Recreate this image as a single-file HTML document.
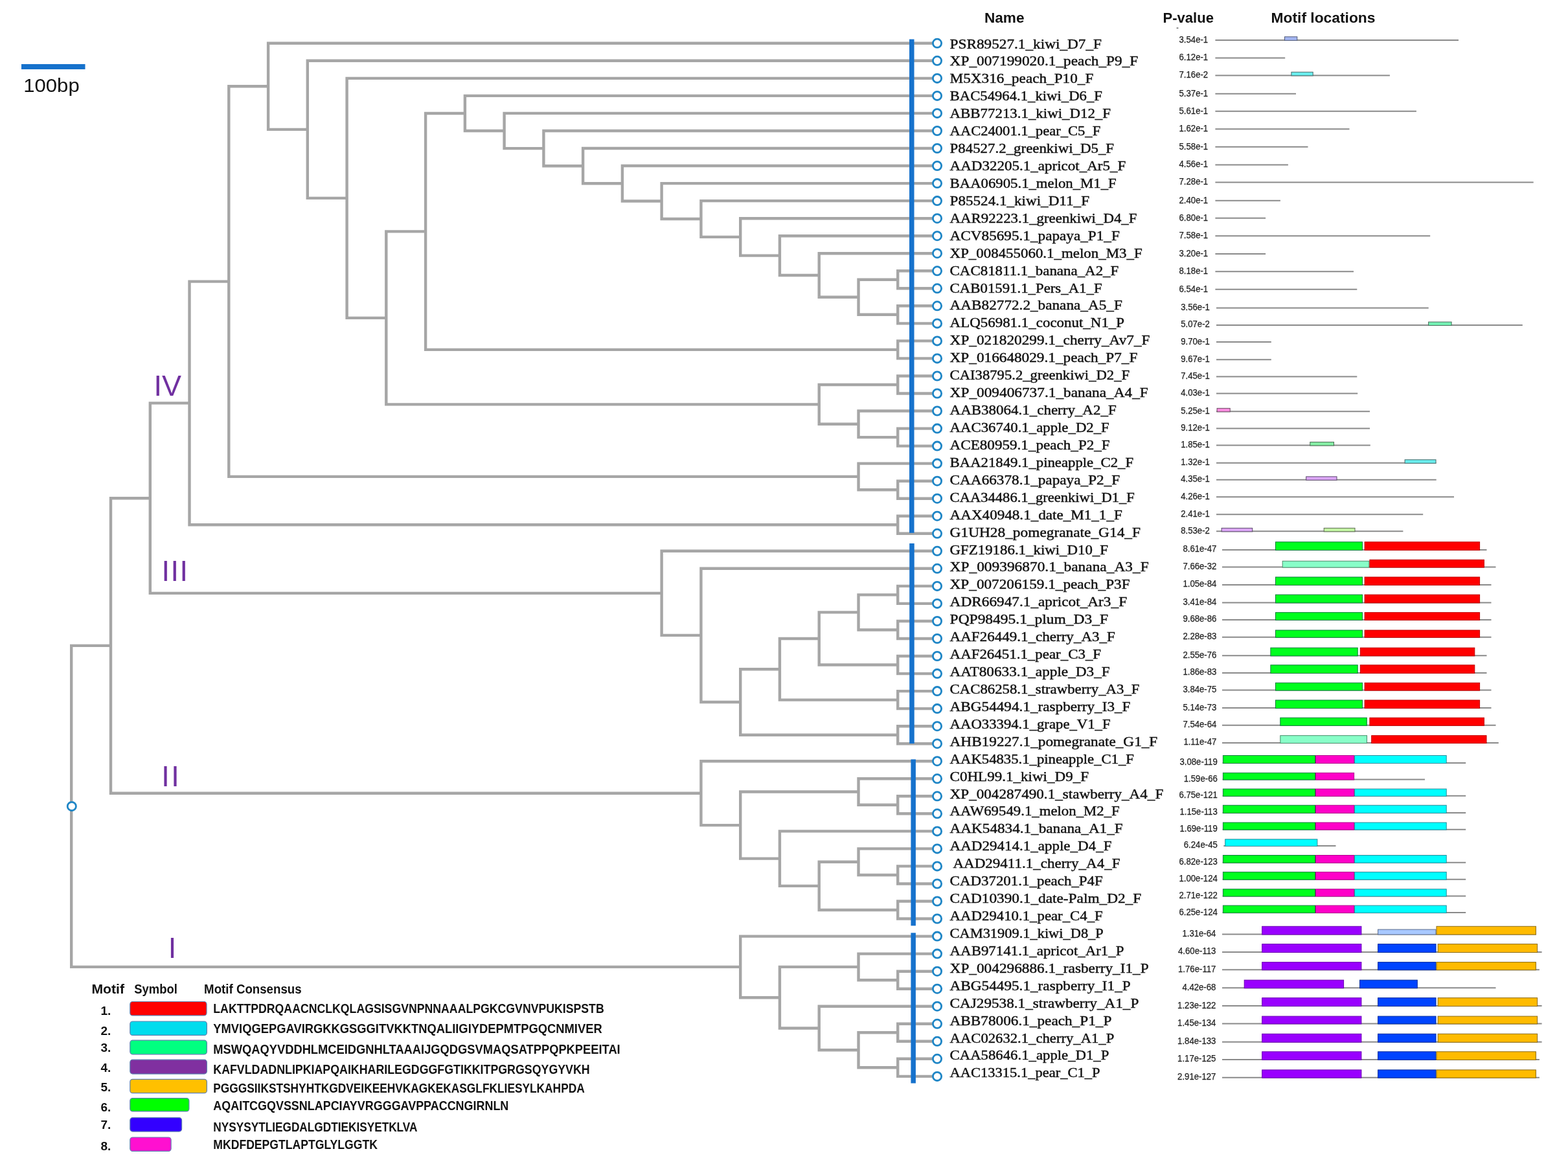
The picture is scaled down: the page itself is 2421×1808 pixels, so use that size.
<!DOCTYPE html>
<html><head><meta charset="utf-8"><title>Motif tree</title>
<style>html,body{margin:0;padding:0;background:#fff;}svg{display:block;}.nm{font-family:"Liberation Serif",serif;font-size:21.5px;fill:#111;stroke:#111;stroke-width:0.45px;}.pv{font-family:"Liberation Sans",sans-serif;font-size:14.4px;fill:#222;stroke:#222;stroke-width:0.25px;}.hd{font-family:"Liberation Sans",sans-serif;font-weight:bold;fill:#111;}.rn{font-family:"Liberation Sans",sans-serif;font-size:45px;fill:#7030a0;}.lg{font-family:"Liberation Sans",sans-serif;font-weight:bold;fill:#111;}</style></head><body>
<svg width="2421" height="1808" viewBox="0 0 2421 1808">
<rect width="2421" height="1808" fill="#fff"/>
<rect x="33" y="99" width="98.5" height="8" fill="#1672cc"/>
<text x="36.2" y="141.9" font-family="Liberation Sans, sans-serif" font-size="29.8px" fill="#111" textLength="86.5" lengthAdjust="spacingAndGlyphs">100bp</text>
<path d="M171.0 996.9H110.2V1492.9H1143.2M231.8 769.2H171.0V1224.7H1082.4M292.5 622.4H231.8V915.9H1021.6M353.3 434.6H292.5V810.3H1386.2M414.1 133.3H353.3V735.9H1325.5M1441.0 66.8H414.1V199.9H474.8M1441.0 93.8H474.8V305.9H535.6M1441.0 120.9H535.6V490.9H596.3M657.1 357.4H596.3V624.4H1264.7M717.9 175.0H657.1V539.9H1386.2M1441.0 147.9H717.9V202.0H778.6M1441.0 174.9H778.6V229.1H839.4M1441.0 202.0H839.4V256.2H900.1M1441.0 229.0H900.1V283.3H960.9M1441.0 256.0H960.9V310.5H1021.6M1441.0 283.1H1021.6V338.0H1082.4M1441.0 310.1H1082.4V365.9H1143.2M1441.0 337.2H1143.2V394.6H1203.9M1441.0 364.2H1203.9V425.0H1264.7M1441.0 391.2H1264.7V458.8H1325.5M1386.2 431.8H1325.5V485.8H1386.2M1441.0 418.3H1386.2V445.3H1441.0M1441.0 472.3H1386.2V499.4H1441.0M1441.0 526.4H1386.2V553.4H1441.0M1386.2 594.0H1264.7V654.8H1325.5M1441.0 580.5H1386.2V607.5H1441.0M1441.0 634.5H1325.5V675.1H1386.2M1441.0 661.6H1386.2V688.6H1441.0M1441.0 715.6H1325.5V756.2H1386.2M1441.0 742.7H1386.2V769.7H1441.0M1441.0 796.7H1386.2V823.8H1441.0M1441.0 850.8H1021.6V980.9H1082.4M1441.0 877.8H1082.4V1084.0H1143.2M1203.9 1033.3H1143.2V1134.7H1386.2M1264.7 986.0H1203.9V1080.6H1386.2M1325.5 945.4H1264.7V1026.5H1386.2M1386.2 918.4H1325.5V972.5H1386.2M1441.0 904.9H1386.2V931.9H1441.0M1441.0 959.0H1386.2V986.0H1441.0M1441.0 1013.0H1386.2V1040.1H1441.0M1441.0 1067.1H1386.2V1094.1H1441.0M1441.0 1121.2H1386.2V1148.2H1441.0M1441.0 1175.2H1082.4V1274.1H1143.2M1325.5 1222.5H1143.2V1325.6H1203.9M1441.0 1202.3H1325.5V1242.8H1386.2M1441.0 1229.3H1386.2V1256.3H1441.0M1441.0 1283.4H1203.9V1367.9H1264.7M1325.5 1330.7H1264.7V1405.0H1386.2M1441.0 1310.4H1325.5V1351.0H1386.2M1441.0 1337.4H1386.2V1364.5H1441.0M1441.0 1391.5H1386.2V1418.5H1441.0M1441.0 1445.6H1143.2V1540.2H1203.9M1325.5 1492.9H1203.9V1587.5H1264.7M1441.0 1472.6H1325.5V1513.2H1386.2M1441.0 1499.7H1386.2V1526.7H1441.0M1441.0 1553.7H1264.7V1621.3H1325.5M1386.2 1594.3H1325.5V1648.3H1386.2M1441.0 1580.8H1386.2V1607.8H1441.0M1441.0 1634.8H1386.2V1661.9H1441.0" fill="none" stroke="#a6a6a6" stroke-width="4.4" stroke-linejoin="miter" stroke-linecap="butt"/>
<rect x="1404.0" y="60.6" width="7.5" height="762.2" fill="#1672cc"/>
<rect x="1404.2" y="839.0" width="7.5" height="309.0" fill="#1672cc"/>
<rect x="1406.4" y="1172.4" width="7.5" height="256.9" fill="#1672cc"/>
<rect x="1406.4" y="1440.3" width="7.5" height="232.2" fill="#1672cc"/>
<circle cx="1447.0" cy="66.8" r="6.6" fill="#fff" stroke="#1f86c6" stroke-width="2.8"/>
<circle cx="1447.0" cy="93.8" r="6.6" fill="#fff" stroke="#1f86c6" stroke-width="2.8"/>
<circle cx="1447.0" cy="120.9" r="6.6" fill="#fff" stroke="#1f86c6" stroke-width="2.8"/>
<circle cx="1447.0" cy="147.9" r="6.6" fill="#fff" stroke="#1f86c6" stroke-width="2.8"/>
<circle cx="1447.0" cy="174.9" r="6.6" fill="#fff" stroke="#1f86c6" stroke-width="2.8"/>
<circle cx="1447.0" cy="202.0" r="6.6" fill="#fff" stroke="#1f86c6" stroke-width="2.8"/>
<circle cx="1447.0" cy="229.0" r="6.6" fill="#fff" stroke="#1f86c6" stroke-width="2.8"/>
<circle cx="1447.0" cy="256.0" r="6.6" fill="#fff" stroke="#1f86c6" stroke-width="2.8"/>
<circle cx="1447.0" cy="283.1" r="6.6" fill="#fff" stroke="#1f86c6" stroke-width="2.8"/>
<circle cx="1447.0" cy="310.1" r="6.6" fill="#fff" stroke="#1f86c6" stroke-width="2.8"/>
<circle cx="1447.0" cy="337.2" r="6.6" fill="#fff" stroke="#1f86c6" stroke-width="2.8"/>
<circle cx="1447.0" cy="364.2" r="6.6" fill="#fff" stroke="#1f86c6" stroke-width="2.8"/>
<circle cx="1447.0" cy="391.2" r="6.6" fill="#fff" stroke="#1f86c6" stroke-width="2.8"/>
<circle cx="1447.0" cy="418.3" r="6.6" fill="#fff" stroke="#1f86c6" stroke-width="2.8"/>
<circle cx="1447.0" cy="445.3" r="6.6" fill="#fff" stroke="#1f86c6" stroke-width="2.8"/>
<circle cx="1447.0" cy="472.3" r="6.6" fill="#fff" stroke="#1f86c6" stroke-width="2.8"/>
<circle cx="1447.0" cy="499.4" r="6.6" fill="#fff" stroke="#1f86c6" stroke-width="2.8"/>
<circle cx="1447.0" cy="526.4" r="6.6" fill="#fff" stroke="#1f86c6" stroke-width="2.8"/>
<circle cx="1447.0" cy="553.4" r="6.6" fill="#fff" stroke="#1f86c6" stroke-width="2.8"/>
<circle cx="1447.0" cy="580.5" r="6.6" fill="#fff" stroke="#1f86c6" stroke-width="2.8"/>
<circle cx="1447.0" cy="607.5" r="6.6" fill="#fff" stroke="#1f86c6" stroke-width="2.8"/>
<circle cx="1447.0" cy="634.5" r="6.6" fill="#fff" stroke="#1f86c6" stroke-width="2.8"/>
<circle cx="1447.0" cy="661.6" r="6.6" fill="#fff" stroke="#1f86c6" stroke-width="2.8"/>
<circle cx="1447.0" cy="688.6" r="6.6" fill="#fff" stroke="#1f86c6" stroke-width="2.8"/>
<circle cx="1447.0" cy="715.6" r="6.6" fill="#fff" stroke="#1f86c6" stroke-width="2.8"/>
<circle cx="1447.0" cy="742.7" r="6.6" fill="#fff" stroke="#1f86c6" stroke-width="2.8"/>
<circle cx="1447.0" cy="769.7" r="6.6" fill="#fff" stroke="#1f86c6" stroke-width="2.8"/>
<circle cx="1447.0" cy="796.7" r="6.6" fill="#fff" stroke="#1f86c6" stroke-width="2.8"/>
<circle cx="1447.0" cy="823.8" r="6.6" fill="#fff" stroke="#1f86c6" stroke-width="2.8"/>
<circle cx="1447.0" cy="850.8" r="6.6" fill="#fff" stroke="#1f86c6" stroke-width="2.8"/>
<circle cx="1447.0" cy="877.8" r="6.6" fill="#fff" stroke="#1f86c6" stroke-width="2.8"/>
<circle cx="1447.0" cy="904.9" r="6.6" fill="#fff" stroke="#1f86c6" stroke-width="2.8"/>
<circle cx="1447.0" cy="931.9" r="6.6" fill="#fff" stroke="#1f86c6" stroke-width="2.8"/>
<circle cx="1447.0" cy="959.0" r="6.6" fill="#fff" stroke="#1f86c6" stroke-width="2.8"/>
<circle cx="1447.0" cy="986.0" r="6.6" fill="#fff" stroke="#1f86c6" stroke-width="2.8"/>
<circle cx="1447.0" cy="1013.0" r="6.6" fill="#fff" stroke="#1f86c6" stroke-width="2.8"/>
<circle cx="1447.0" cy="1040.1" r="6.6" fill="#fff" stroke="#1f86c6" stroke-width="2.8"/>
<circle cx="1447.0" cy="1067.1" r="6.6" fill="#fff" stroke="#1f86c6" stroke-width="2.8"/>
<circle cx="1447.0" cy="1094.1" r="6.6" fill="#fff" stroke="#1f86c6" stroke-width="2.8"/>
<circle cx="1447.0" cy="1121.2" r="6.6" fill="#fff" stroke="#1f86c6" stroke-width="2.8"/>
<circle cx="1447.0" cy="1148.2" r="6.6" fill="#fff" stroke="#1f86c6" stroke-width="2.8"/>
<circle cx="1447.0" cy="1175.2" r="6.6" fill="#fff" stroke="#1f86c6" stroke-width="2.8"/>
<circle cx="1447.0" cy="1202.3" r="6.6" fill="#fff" stroke="#1f86c6" stroke-width="2.8"/>
<circle cx="1447.0" cy="1229.3" r="6.6" fill="#fff" stroke="#1f86c6" stroke-width="2.8"/>
<circle cx="1447.0" cy="1256.3" r="6.6" fill="#fff" stroke="#1f86c6" stroke-width="2.8"/>
<circle cx="1447.0" cy="1283.4" r="6.6" fill="#fff" stroke="#1f86c6" stroke-width="2.8"/>
<circle cx="1447.0" cy="1310.4" r="6.6" fill="#fff" stroke="#1f86c6" stroke-width="2.8"/>
<circle cx="1447.0" cy="1337.4" r="6.6" fill="#fff" stroke="#1f86c6" stroke-width="2.8"/>
<circle cx="1447.0" cy="1364.5" r="6.6" fill="#fff" stroke="#1f86c6" stroke-width="2.8"/>
<circle cx="1447.0" cy="1391.5" r="6.6" fill="#fff" stroke="#1f86c6" stroke-width="2.8"/>
<circle cx="1447.0" cy="1418.5" r="6.6" fill="#fff" stroke="#1f86c6" stroke-width="2.8"/>
<circle cx="1447.0" cy="1445.6" r="6.6" fill="#fff" stroke="#1f86c6" stroke-width="2.8"/>
<circle cx="1447.0" cy="1472.6" r="6.6" fill="#fff" stroke="#1f86c6" stroke-width="2.8"/>
<circle cx="1447.0" cy="1499.7" r="6.6" fill="#fff" stroke="#1f86c6" stroke-width="2.8"/>
<circle cx="1447.0" cy="1526.7" r="6.6" fill="#fff" stroke="#1f86c6" stroke-width="2.8"/>
<circle cx="1447.0" cy="1553.7" r="6.6" fill="#fff" stroke="#1f86c6" stroke-width="2.8"/>
<circle cx="1447.0" cy="1580.8" r="6.6" fill="#fff" stroke="#1f86c6" stroke-width="2.8"/>
<circle cx="1447.0" cy="1607.8" r="6.6" fill="#fff" stroke="#1f86c6" stroke-width="2.8"/>
<circle cx="1447.0" cy="1634.8" r="6.6" fill="#fff" stroke="#1f86c6" stroke-width="2.8"/>
<circle cx="1447.0" cy="1661.9" r="6.6" fill="#fff" stroke="#1f86c6" stroke-width="2.8"/>
<circle cx="110.8" cy="1244.9" r="6.6" fill="#fff" stroke="#1f86c6" stroke-width="2.8"/>
<text class="rn" x="237.4" y="610.8">IV</text>
<text class="rn" x="249.5" y="896.6" letter-spacing="1.5">III</text>
<text class="rn" x="249.3" y="1214.2" letter-spacing="2.5">II</text>
<text class="rn" x="259.7" y="1478.6">I</text>
<text class="nm" x="1466.6" y="74.5" textLength="234.4" lengthAdjust="spacingAndGlyphs">PSR89527.1_kiwi_D7_F</text>
<text class="nm" x="1466.6" y="101.4" textLength="290.7" lengthAdjust="spacingAndGlyphs">XP_007199020.1_peach_P9_F</text>
<text class="nm" x="1466.6" y="128.4" textLength="221.7" lengthAdjust="spacingAndGlyphs">M5X316_peach_P10_F</text>
<text class="nm" x="1466.6" y="155.3" textLength="235.3" lengthAdjust="spacingAndGlyphs">BAC54964.1_kiwi_D6_F</text>
<text class="nm" x="1466.6" y="182.2" textLength="248.4" lengthAdjust="spacingAndGlyphs">ABB77213.1_kiwi_D12_F</text>
<text class="nm" x="1466.6" y="209.2" textLength="232.6" lengthAdjust="spacingAndGlyphs">AAC24001.1_pear_C5_F</text>
<text class="nm" x="1466.6" y="236.1" textLength="253.5" lengthAdjust="spacingAndGlyphs">P84527.2_greenkiwi_D5_F</text>
<text class="nm" x="1466.6" y="263.0" textLength="271.7" lengthAdjust="spacingAndGlyphs">AAD32205.1_apricot_Ar5_F</text>
<text class="nm" x="1466.6" y="289.9" textLength="257.1" lengthAdjust="spacingAndGlyphs">BAA06905.1_melon_M1_F</text>
<text class="nm" x="1466.6" y="316.9" textLength="215.4" lengthAdjust="spacingAndGlyphs">P85524.1_kiwi_D11_F</text>
<text class="nm" x="1466.6" y="343.8" textLength="288.9" lengthAdjust="spacingAndGlyphs">AAR92223.1_greenkiwi_D4_F</text>
<text class="nm" x="1466.6" y="370.7" textLength="262.2" lengthAdjust="spacingAndGlyphs">ACV85695.1_papaya_P1_F</text>
<text class="nm" x="1466.6" y="397.7" textLength="297.1" lengthAdjust="spacingAndGlyphs">XP_008455060.1_melon_M3_F</text>
<text class="nm" x="1466.6" y="424.6" textLength="260.7" lengthAdjust="spacingAndGlyphs">CAC81811.1_banana_A2_F</text>
<text class="nm" x="1466.6" y="451.5" textLength="235.0" lengthAdjust="spacingAndGlyphs">CAB01591.1_Pers_A1_F</text>
<text class="nm" x="1466.6" y="478.4" textLength="266.2" lengthAdjust="spacingAndGlyphs">AAB82772.2_banana_A5_F</text>
<text class="nm" x="1466.6" y="505.4" textLength="269.5" lengthAdjust="spacingAndGlyphs">ALQ56981.1_coconut_N1_P</text>
<text class="nm" x="1466.6" y="532.3" textLength="308.9" lengthAdjust="spacingAndGlyphs">XP_021820299.1_cherry_Av7_F</text>
<text class="nm" x="1466.6" y="559.2" textLength="289.8" lengthAdjust="spacingAndGlyphs">XP_016648029.1_peach_P7_F</text>
<text class="nm" x="1466.6" y="586.2" textLength="277.5" lengthAdjust="spacingAndGlyphs">CAI38795.2_greenkiwi_D2_F</text>
<text class="nm" x="1466.6" y="613.1" textLength="306.2" lengthAdjust="spacingAndGlyphs">XP_009406737.1_banana_A4_F</text>
<text class="nm" x="1466.6" y="640.0" textLength="257.1" lengthAdjust="spacingAndGlyphs">AAB38064.1_cherry_A2_F</text>
<text class="nm" x="1466.6" y="667.0" textLength="246.2" lengthAdjust="spacingAndGlyphs">AAC36740.1_apple_D2_F</text>
<text class="nm" x="1466.6" y="693.9" textLength="247.1" lengthAdjust="spacingAndGlyphs">ACE80959.1_peach_P2_F</text>
<text class="nm" x="1466.6" y="720.8" textLength="283.5" lengthAdjust="spacingAndGlyphs">BAA21849.1_pineapple_C2_F</text>
<text class="nm" x="1466.6" y="747.8" textLength="262.6" lengthAdjust="spacingAndGlyphs">CAA66378.1_papaya_P2_F</text>
<text class="nm" x="1466.6" y="774.7" textLength="285.3" lengthAdjust="spacingAndGlyphs">CAA34486.1_greenkiwi_D1_F</text>
<text class="nm" x="1466.6" y="801.6" textLength="266.2" lengthAdjust="spacingAndGlyphs">AAX40948.1_date_M1_1_F</text>
<text class="nm" x="1466.6" y="828.5" textLength="294.4" lengthAdjust="spacingAndGlyphs">G1UH28_pomegranate_G14_F</text>
<text class="nm" x="1466.6" y="855.5" textLength="244.4" lengthAdjust="spacingAndGlyphs">GFZ19186.1_kiwi_D10_F</text>
<text class="nm" x="1466.6" y="882.4" textLength="307.1" lengthAdjust="spacingAndGlyphs">XP_009396870.1_banana_A3_F</text>
<text class="nm" x="1466.6" y="909.3" textLength="278.0" lengthAdjust="spacingAndGlyphs">XP_007206159.1_peach_P3F</text>
<text class="nm" x="1466.6" y="936.3" textLength="273.5" lengthAdjust="spacingAndGlyphs">ADR66947.1_apricot_Ar3_F</text>
<text class="nm" x="1466.6" y="963.2" textLength="244.4" lengthAdjust="spacingAndGlyphs">PQP98495.1_plum_D3_F</text>
<text class="nm" x="1466.6" y="990.1" textLength="255.3" lengthAdjust="spacingAndGlyphs">AAF26449.1_cherry_A3_F</text>
<text class="nm" x="1466.6" y="1017.0" textLength="233.5" lengthAdjust="spacingAndGlyphs">AAF26451.1_pear_C3_F</text>
<text class="nm" x="1466.6" y="1044.0" textLength="247.1" lengthAdjust="spacingAndGlyphs">AAT80633.1_apple_D3_F</text>
<text class="nm" x="1466.6" y="1070.9" textLength="292.9" lengthAdjust="spacingAndGlyphs">CAC86258.1_strawberry_A3_F</text>
<text class="nm" x="1466.6" y="1097.8" textLength="278.9" lengthAdjust="spacingAndGlyphs">ABG54494.1_raspberry_I3_F</text>
<text class="nm" x="1466.6" y="1124.8" textLength="248.0" lengthAdjust="spacingAndGlyphs">AAO33394.1_grape_V1_F</text>
<text class="nm" x="1466.6" y="1151.7" textLength="320.7" lengthAdjust="spacingAndGlyphs">AHB19227.1_pomegranate_G1_F</text>
<text class="nm" x="1466.6" y="1178.6" textLength="284.4" lengthAdjust="spacingAndGlyphs">AAK54835.1_pineapple_C1_F</text>
<text class="nm" x="1466.6" y="1205.6" textLength="214.4" lengthAdjust="spacingAndGlyphs">C0HL99.1_kiwi_D9_F</text>
<text class="nm" x="1466.6" y="1232.5" textLength="329.7" lengthAdjust="spacingAndGlyphs">XP_004287490.1_stawberry_A4_F</text>
<text class="nm" x="1466.6" y="1259.4" textLength="262.2" lengthAdjust="spacingAndGlyphs">AAW69549.1_melon_M2_F</text>
<text class="nm" x="1466.6" y="1286.3" textLength="267.1" lengthAdjust="spacingAndGlyphs">AAK54834.1_banana_A1_F</text>
<text class="nm" x="1466.6" y="1313.3" textLength="249.9" lengthAdjust="spacingAndGlyphs">AAD29414.1_apple_D4_F</text>
<text class="nm" x="1471.4" y="1340.2" textLength="258.1" lengthAdjust="spacingAndGlyphs">AAD29411.1_cherry_A4_F</text>
<text class="nm" x="1466.6" y="1367.1" textLength="236.2" lengthAdjust="spacingAndGlyphs">CAD37201.1_peach_P4F</text>
<text class="nm" x="1466.6" y="1394.1" textLength="295.6" lengthAdjust="spacingAndGlyphs">CAD10390.1_date-Palm_D2_F</text>
<text class="nm" x="1466.6" y="1421.0" textLength="236.2" lengthAdjust="spacingAndGlyphs">AAD29410.1_pear_C4_F</text>
<text class="nm" x="1466.6" y="1447.9" textLength="237.2" lengthAdjust="spacingAndGlyphs">CAM31909.1_kiwi_D8_P</text>
<text class="nm" x="1466.6" y="1474.9" textLength="268.9" lengthAdjust="spacingAndGlyphs">AAB97141.1_apricot_Ar1_P</text>
<text class="nm" x="1466.6" y="1501.8" textLength="307.1" lengthAdjust="spacingAndGlyphs">XP_004296886.1_rasberry_I1_P</text>
<text class="nm" x="1466.6" y="1528.7" textLength="279.1" lengthAdjust="spacingAndGlyphs">ABG54495.1_raspberry_I1_P</text>
<text class="nm" x="1466.6" y="1555.7" textLength="291.7" lengthAdjust="spacingAndGlyphs">CAJ29538.1_strawberry_A1_P</text>
<text class="nm" x="1466.6" y="1582.6" textLength="249.7" lengthAdjust="spacingAndGlyphs">ABB78006.1_peach_P1_P</text>
<text class="nm" x="1466.6" y="1609.5" textLength="253.7" lengthAdjust="spacingAndGlyphs">AAC02632.1_cherry_A1_P</text>
<text class="nm" x="1466.6" y="1636.4" textLength="245.8" lengthAdjust="spacingAndGlyphs">CAA58646.1_apple_D1_P</text>
<text class="nm" x="1466.6" y="1663.4" textLength="231.9" lengthAdjust="spacingAndGlyphs">AAC13315.1_pear_C1_P</text>
<text class="hd" x="1520" y="34.7" font-size="22px" textLength="61.5" lengthAdjust="spacingAndGlyphs">Name</text>
<text class="hd" x="1795.5" y="34.8" font-size="22px" textLength="78.5" lengthAdjust="spacingAndGlyphs">P-value</text>
<text class="hd" x="1962.5" y="34.8" font-size="22px" textLength="161" lengthAdjust="spacingAndGlyphs">Motif locations</text>
<path d="M1876.4 61.9H2252.0M1876.4 89.4H1984.2M1876.4 116.4H2145.9M1876.4 144.7H2001.0M1876.4 171.7H2186.9M1876.4 199.2H2083.5M1876.4 226.7H2019.5M1876.4 254.4H1988.9M1876.4 281.4H2367.7M1876.4 309.7H1976.9M1876.4 336.7H1954.1M1876.4 364.2H2208.2M1876.4 392.0H1954.1M1876.4 419.2H2090.0M1876.4 446.7H2095.3M1878.0 475.6H2205.7M1878.0 502.0H2350.8M1878.0 528.1H1962.8M1878.0 555.3H1962.8M1878.0 581.4H2095.3M1878.0 607.5H2096.2M1878.0 635.3H2115.0M1878.0 661.4H2115.0M1878.0 687.5H2115.8M1878.0 714.7H2217.5M1878.0 740.8H2217.7M1878.0 767.2H2245.0M1878.0 794.2H2197.2M1878.0 820.3H2166.4M1887.0 849.0H2295.5M1887.0 875.6H2309.5M1887.0 902.9H2302.5M1887.0 930.4H2302.5M1887.0 957.0H2302.5M1887.0 983.7H2302.5M1887.0 1012.3H2295.5M1887.0 1039.0H2295.5M1887.0 1065.6H2302.5M1887.0 1093.1H2302.5M1887.0 1119.8H2309.5M1887.0 1147.0H2313.8M1887.6 1178.0H2263.2M1887.6 1203.5H2200.0M1887.6 1228.8H2263.2M1887.6 1254.9H2263.2M1887.6 1280.7H2263.2M1889.3 1306.0H2062.5M1887.6 1331.8H2263.2M1887.6 1357.7H2263.2M1887.6 1383.5H2263.2M1887.6 1409.1H2263.2M1887.0 1442.5H2371.9M1887.0 1470.0H2380.6M1887.0 1497.2H2376.9M1887.0 1525.2H2309.5M1887.0 1553.1H2380.6M1887.0 1580.4H2380.6M1887.0 1608.7H2380.6M1887.0 1636.0H2376.9M1887.0 1663.7H2376.9" stroke="#8a8a8a" stroke-width="2" fill="none"/>
<rect x="1983.5" y="56.8" width="19.3" height="5.6" fill="#a4b6f2" stroke="#505a78" stroke-width="1"/>
<rect x="1993.9" y="111.3" width="33.3" height="5.6" fill="#6aeeee" stroke="#4a6a6a" stroke-width="1"/>
<rect x="2205.6" y="497.1" width="35.5" height="5.4" fill="#74f2b4" stroke="#4a6a5a" stroke-width="1"/>
<rect x="1879.1" y="630.4" width="20.1" height="5.4" fill="#ff8ce0" stroke="#6a4a62" stroke-width="1"/>
<rect x="2022.8" y="682.6" width="36.7" height="5.4" fill="#86f0a6" stroke="#4a6a52" stroke-width="1"/>
<rect x="2169.1" y="709.8" width="47.9" height="5.4" fill="#6aeeee" stroke="#4a6a6a" stroke-width="1"/>
<rect x="2016.7" y="735.9" width="47.3" height="5.4" fill="#dca6f8" stroke="#5a4a6a" stroke-width="1"/>
<rect x="1886.1" y="815.4" width="47.6" height="5.4" fill="#dca6f8" stroke="#5a4a6a" stroke-width="1"/>
<rect x="2044.2" y="815.4" width="47.8" height="5.4" fill="#c4f8a4" stroke="#5a6a4e" stroke-width="1"/>
<rect x="1969.5" y="836.8" width="134.0" height="12.7" fill="#00ff1e" stroke="#0a7a3a" stroke-width="1"/>
<rect x="2107.1" y="836.8" width="177.5" height="12.7" fill="#ff0000" stroke="#c00000" stroke-width="1"/>
<rect x="1980.2" y="866.3" width="133.7" height="9.8" fill="#88ffc8" stroke="#4a8a6a" stroke-width="1"/>
<rect x="2114.9" y="864.3" width="176.5" height="11.8" fill="#ff0000" stroke="#c00000" stroke-width="1"/>
<rect x="1969.5" y="891.0" width="134.0" height="12.4" fill="#00ff1e" stroke="#0a7a3a" stroke-width="1"/>
<rect x="2107.1" y="891.0" width="177.5" height="12.4" fill="#ff0000" stroke="#c00000" stroke-width="1"/>
<rect x="1969.5" y="918.2" width="134.0" height="12.7" fill="#00ff1e" stroke="#0a7a3a" stroke-width="1"/>
<rect x="2107.1" y="918.2" width="177.5" height="12.7" fill="#ff0000" stroke="#c00000" stroke-width="1"/>
<rect x="1969.5" y="945.7" width="134.0" height="11.8" fill="#00ff1e" stroke="#0a7a3a" stroke-width="1"/>
<rect x="2107.1" y="945.7" width="177.5" height="11.8" fill="#ff0000" stroke="#c00000" stroke-width="1"/>
<rect x="1969.5" y="973.0" width="134.0" height="11.2" fill="#00ff1e" stroke="#0a7a3a" stroke-width="1"/>
<rect x="2107.1" y="973.0" width="177.5" height="11.2" fill="#ff0000" stroke="#c00000" stroke-width="1"/>
<rect x="1961.9" y="1000.2" width="134.3" height="12.6" fill="#00ff1e" stroke="#0a7a3a" stroke-width="1"/>
<rect x="2100.3" y="1000.2" width="176.5" height="12.6" fill="#ff0000" stroke="#c00000" stroke-width="1"/>
<rect x="1961.9" y="1026.8" width="134.3" height="12.7" fill="#00ff1e" stroke="#0a7a3a" stroke-width="1"/>
<rect x="2100.3" y="1026.8" width="176.5" height="12.7" fill="#ff0000" stroke="#c00000" stroke-width="1"/>
<rect x="1969.5" y="1054.3" width="134.0" height="11.8" fill="#00ff1e" stroke="#0a7a3a" stroke-width="1"/>
<rect x="2107.1" y="1054.3" width="177.5" height="11.8" fill="#ff0000" stroke="#c00000" stroke-width="1"/>
<rect x="1969.5" y="1081.0" width="134.0" height="12.6" fill="#00ff1e" stroke="#0a7a3a" stroke-width="1"/>
<rect x="2107.1" y="1081.0" width="177.5" height="12.6" fill="#ff0000" stroke="#c00000" stroke-width="1"/>
<rect x="1976.8" y="1108.2" width="133.5" height="12.1" fill="#00ff1e" stroke="#0a7a3a" stroke-width="1"/>
<rect x="2114.9" y="1108.2" width="176.5" height="12.1" fill="#ff0000" stroke="#c00000" stroke-width="1"/>
<rect x="1976.8" y="1135.7" width="133.7" height="11.8" fill="#88ffc8" stroke="#4a8a6a" stroke-width="1"/>
<rect x="2117.7" y="1135.7" width="177.3" height="11.8" fill="#ff0000" stroke="#c00000" stroke-width="1"/>
<rect x="1888.4" y="1166.5" width="142.1" height="12.0" fill="#00ff1e" stroke="#0a7a3a" stroke-width="1"/>
<rect x="2031.5" y="1166.5" width="59.1" height="12.0" fill="#ff00c8" stroke="#b0008a" stroke-width="1"/>
<rect x="2091.6" y="1166.5" width="141.6" height="12.0" fill="#00ffff" stroke="#2a8a9a" stroke-width="1"/>
<rect x="1888.4" y="1193.3" width="142.1" height="10.7" fill="#00ff1e" stroke="#0a7a3a" stroke-width="1"/>
<rect x="2031.5" y="1193.3" width="59.1" height="10.7" fill="#ff00c8" stroke="#b0008a" stroke-width="1"/>
<rect x="1888.4" y="1218.1" width="142.1" height="11.2" fill="#00ff1e" stroke="#0a7a3a" stroke-width="1"/>
<rect x="2031.5" y="1218.1" width="59.1" height="11.2" fill="#ff00c8" stroke="#b0008a" stroke-width="1"/>
<rect x="2091.6" y="1218.1" width="141.6" height="11.2" fill="#00ffff" stroke="#2a8a9a" stroke-width="1"/>
<rect x="1888.4" y="1243.3" width="142.1" height="12.1" fill="#00ff1e" stroke="#0a7a3a" stroke-width="1"/>
<rect x="2031.5" y="1243.3" width="59.1" height="12.1" fill="#ff00c8" stroke="#b0008a" stroke-width="1"/>
<rect x="2091.6" y="1243.3" width="141.6" height="12.1" fill="#00ffff" stroke="#2a8a9a" stroke-width="1"/>
<rect x="1888.4" y="1270.0" width="142.1" height="11.2" fill="#00ff1e" stroke="#0a7a3a" stroke-width="1"/>
<rect x="2031.5" y="1270.0" width="59.1" height="11.2" fill="#ff00c8" stroke="#b0008a" stroke-width="1"/>
<rect x="2091.6" y="1270.0" width="141.6" height="11.2" fill="#00ffff" stroke="#2a8a9a" stroke-width="1"/>
<rect x="1891.7" y="1295.8" width="142.2" height="10.7" fill="#00ffff" stroke="#2a8a9a" stroke-width="1"/>
<rect x="1888.4" y="1320.5" width="142.1" height="11.8" fill="#00ff1e" stroke="#0a7a3a" stroke-width="1"/>
<rect x="2031.5" y="1320.5" width="59.1" height="11.8" fill="#ff00c8" stroke="#b0008a" stroke-width="1"/>
<rect x="2091.6" y="1320.5" width="141.6" height="11.8" fill="#00ffff" stroke="#2a8a9a" stroke-width="1"/>
<rect x="1888.4" y="1346.4" width="142.1" height="11.8" fill="#00ff1e" stroke="#0a7a3a" stroke-width="1"/>
<rect x="2031.5" y="1346.4" width="59.1" height="11.8" fill="#ff00c8" stroke="#b0008a" stroke-width="1"/>
<rect x="2091.6" y="1346.4" width="141.6" height="11.8" fill="#00ffff" stroke="#2a8a9a" stroke-width="1"/>
<rect x="1888.4" y="1372.8" width="142.1" height="11.2" fill="#00ff1e" stroke="#0a7a3a" stroke-width="1"/>
<rect x="2031.5" y="1372.8" width="59.1" height="11.2" fill="#ff00c8" stroke="#b0008a" stroke-width="1"/>
<rect x="2091.6" y="1372.8" width="141.6" height="11.2" fill="#00ffff" stroke="#2a8a9a" stroke-width="1"/>
<rect x="1888.4" y="1398.1" width="142.1" height="11.5" fill="#00ff1e" stroke="#0a7a3a" stroke-width="1"/>
<rect x="2031.5" y="1398.1" width="59.1" height="11.5" fill="#ff00c8" stroke="#b0008a" stroke-width="1"/>
<rect x="2091.6" y="1398.1" width="141.6" height="11.5" fill="#00ffff" stroke="#2a8a9a" stroke-width="1"/>
<rect x="1948.7" y="1430.3" width="153.2" height="12.7" fill="#9900ff" stroke="#6a00b0" stroke-width="1"/>
<rect x="2127.6" y="1435.1" width="89.4" height="7.9" fill="#a8c8ff" stroke="#5a6a8a" stroke-width="1"/>
<rect x="2218.0" y="1430.3" width="153.4" height="12.7" fill="#ffbb00" stroke="#8a6a10" stroke-width="1"/>
<rect x="1948.7" y="1457.6" width="153.2" height="12.9" fill="#9900ff" stroke="#6a00b0" stroke-width="1"/>
<rect x="2127.6" y="1457.6" width="89.4" height="12.9" fill="#0044ff" stroke="#002a9a" stroke-width="1"/>
<rect x="2220.2" y="1457.6" width="153.4" height="12.9" fill="#ffbb00" stroke="#8a6a10" stroke-width="1"/>
<rect x="1948.7" y="1485.6" width="153.2" height="12.1" fill="#9900ff" stroke="#6a00b0" stroke-width="1"/>
<rect x="2127.6" y="1485.6" width="89.4" height="12.1" fill="#0044ff" stroke="#002a9a" stroke-width="1"/>
<rect x="2218.0" y="1485.6" width="153.4" height="12.1" fill="#ffbb00" stroke="#8a6a10" stroke-width="1"/>
<rect x="1921.2" y="1513.2" width="153.4" height="12.5" fill="#9900ff" stroke="#6a00b0" stroke-width="1"/>
<rect x="2099.5" y="1513.2" width="88.8" height="12.5" fill="#0044ff" stroke="#002a9a" stroke-width="1"/>
<rect x="1948.7" y="1540.7" width="153.2" height="12.9" fill="#9900ff" stroke="#6a00b0" stroke-width="1"/>
<rect x="2127.6" y="1540.7" width="89.4" height="12.9" fill="#0044ff" stroke="#002a9a" stroke-width="1"/>
<rect x="2220.2" y="1540.7" width="153.4" height="12.9" fill="#ffbb00" stroke="#8a6a10" stroke-width="1"/>
<rect x="1948.7" y="1569.1" width="153.2" height="11.8" fill="#9900ff" stroke="#6a00b0" stroke-width="1"/>
<rect x="2127.6" y="1569.1" width="89.4" height="11.8" fill="#0044ff" stroke="#002a9a" stroke-width="1"/>
<rect x="2220.2" y="1569.1" width="153.4" height="11.8" fill="#ffbb00" stroke="#8a6a10" stroke-width="1"/>
<rect x="1948.7" y="1596.3" width="153.2" height="12.9" fill="#9900ff" stroke="#6a00b0" stroke-width="1"/>
<rect x="2127.6" y="1596.3" width="89.4" height="12.9" fill="#0044ff" stroke="#002a9a" stroke-width="1"/>
<rect x="2220.2" y="1596.3" width="153.4" height="12.9" fill="#ffbb00" stroke="#8a6a10" stroke-width="1"/>
<rect x="1948.7" y="1623.8" width="153.2" height="12.7" fill="#9900ff" stroke="#6a00b0" stroke-width="1"/>
<rect x="2127.6" y="1623.8" width="89.4" height="12.7" fill="#0044ff" stroke="#002a9a" stroke-width="1"/>
<rect x="2218.0" y="1623.8" width="153.4" height="12.7" fill="#ffbb00" stroke="#8a6a10" stroke-width="1"/>
<rect x="1948.7" y="1651.9" width="153.2" height="12.3" fill="#9900ff" stroke="#6a00b0" stroke-width="1"/>
<rect x="2127.6" y="1651.9" width="89.4" height="12.3" fill="#0044ff" stroke="#002a9a" stroke-width="1"/>
<rect x="2218.0" y="1651.9" width="153.4" height="12.3" fill="#ffbb00" stroke="#8a6a10" stroke-width="1"/>
<text class="pv" x="1865.2" y="65.8" text-anchor="end" textLength="44.7" lengthAdjust="spacingAndGlyphs">3.54e-1</text>
<text class="pv" x="1865.2" y="93.3" text-anchor="end" textLength="44.7" lengthAdjust="spacingAndGlyphs">6.12e-1</text>
<text class="pv" x="1865.2" y="120.3" text-anchor="end" textLength="44.7" lengthAdjust="spacingAndGlyphs">7.16e-2</text>
<text class="pv" x="1865.2" y="148.6" text-anchor="end" textLength="44.7" lengthAdjust="spacingAndGlyphs">5.37e-1</text>
<text class="pv" x="1865.2" y="175.6" text-anchor="end" textLength="44.7" lengthAdjust="spacingAndGlyphs">5.61e-1</text>
<text class="pv" x="1865.2" y="203.1" text-anchor="end" textLength="44.7" lengthAdjust="spacingAndGlyphs">1.62e-1</text>
<text class="pv" x="1865.2" y="230.6" text-anchor="end" textLength="44.7" lengthAdjust="spacingAndGlyphs">5.58e-1</text>
<text class="pv" x="1865.2" y="258.3" text-anchor="end" textLength="44.7" lengthAdjust="spacingAndGlyphs">4.56e-1</text>
<text class="pv" x="1865.2" y="285.3" text-anchor="end" textLength="44.7" lengthAdjust="spacingAndGlyphs">7.28e-1</text>
<text class="pv" x="1865.2" y="313.6" text-anchor="end" textLength="44.7" lengthAdjust="spacingAndGlyphs">2.40e-1</text>
<text class="pv" x="1865.2" y="340.6" text-anchor="end" textLength="44.7" lengthAdjust="spacingAndGlyphs">6.80e-1</text>
<text class="pv" x="1865.2" y="368.1" text-anchor="end" textLength="44.7" lengthAdjust="spacingAndGlyphs">7.58e-1</text>
<text class="pv" x="1865.2" y="395.9" text-anchor="end" textLength="44.7" lengthAdjust="spacingAndGlyphs">3.20e-1</text>
<text class="pv" x="1865.2" y="423.1" text-anchor="end" textLength="44.7" lengthAdjust="spacingAndGlyphs">8.18e-1</text>
<text class="pv" x="1865.2" y="450.6" text-anchor="end" textLength="44.7" lengthAdjust="spacingAndGlyphs">6.54e-1</text>
<text class="pv" x="1867.9" y="479.0" text-anchor="end" textLength="44.7" lengthAdjust="spacingAndGlyphs">3.56e-1</text>
<text class="pv" x="1867.9" y="505.4" text-anchor="end" textLength="44.7" lengthAdjust="spacingAndGlyphs">5.07e-2</text>
<text class="pv" x="1867.9" y="531.5" text-anchor="end" textLength="44.7" lengthAdjust="spacingAndGlyphs">9.70e-1</text>
<text class="pv" x="1867.9" y="558.7" text-anchor="end" textLength="44.7" lengthAdjust="spacingAndGlyphs">9.67e-1</text>
<text class="pv" x="1867.9" y="584.8" text-anchor="end" textLength="44.7" lengthAdjust="spacingAndGlyphs">7.45e-1</text>
<text class="pv" x="1867.9" y="610.9" text-anchor="end" textLength="44.7" lengthAdjust="spacingAndGlyphs">4.03e-1</text>
<text class="pv" x="1867.9" y="638.7" text-anchor="end" textLength="44.7" lengthAdjust="spacingAndGlyphs">5.25e-1</text>
<text class="pv" x="1867.9" y="664.8" text-anchor="end" textLength="44.7" lengthAdjust="spacingAndGlyphs">9.12e-1</text>
<text class="pv" x="1867.9" y="690.9" text-anchor="end" textLength="44.7" lengthAdjust="spacingAndGlyphs">1.85e-1</text>
<text class="pv" x="1867.9" y="718.1" text-anchor="end" textLength="44.7" lengthAdjust="spacingAndGlyphs">1.32e-1</text>
<text class="pv" x="1867.9" y="744.2" text-anchor="end" textLength="44.7" lengthAdjust="spacingAndGlyphs">4.35e-1</text>
<text class="pv" x="1867.9" y="770.6" text-anchor="end" textLength="44.7" lengthAdjust="spacingAndGlyphs">4.26e-1</text>
<text class="pv" x="1867.9" y="797.6" text-anchor="end" textLength="44.7" lengthAdjust="spacingAndGlyphs">2.41e-1</text>
<text class="pv" x="1867.9" y="823.7" text-anchor="end" textLength="44.7" lengthAdjust="spacingAndGlyphs">8.53e-2</text>
<text class="pv" x="1878.4" y="852.4" text-anchor="end" textLength="52.0" lengthAdjust="spacingAndGlyphs">8.61e-47</text>
<text class="pv" x="1878.4" y="879.0" text-anchor="end" textLength="52.0" lengthAdjust="spacingAndGlyphs">7.66e-32</text>
<text class="pv" x="1878.4" y="906.3" text-anchor="end" textLength="52.0" lengthAdjust="spacingAndGlyphs">1.05e-84</text>
<text class="pv" x="1878.4" y="933.8" text-anchor="end" textLength="52.0" lengthAdjust="spacingAndGlyphs">3.41e-84</text>
<text class="pv" x="1878.4" y="960.4" text-anchor="end" textLength="52.0" lengthAdjust="spacingAndGlyphs">9.68e-86</text>
<text class="pv" x="1878.4" y="987.1" text-anchor="end" textLength="52.0" lengthAdjust="spacingAndGlyphs">2.28e-83</text>
<text class="pv" x="1878.4" y="1015.7" text-anchor="end" textLength="52.0" lengthAdjust="spacingAndGlyphs">2.55e-76</text>
<text class="pv" x="1878.4" y="1042.4" text-anchor="end" textLength="52.0" lengthAdjust="spacingAndGlyphs">1.86e-83</text>
<text class="pv" x="1878.4" y="1069.0" text-anchor="end" textLength="52.0" lengthAdjust="spacingAndGlyphs">3.84e-75</text>
<text class="pv" x="1878.4" y="1096.5" text-anchor="end" textLength="52.0" lengthAdjust="spacingAndGlyphs">5.14e-73</text>
<text class="pv" x="1878.4" y="1123.2" text-anchor="end" textLength="52.0" lengthAdjust="spacingAndGlyphs">7.54e-64</text>
<text class="pv" x="1878.4" y="1150.4" text-anchor="end" textLength="51.0" lengthAdjust="spacingAndGlyphs">1.11e-47</text>
<text class="pv" x="1879.8" y="1181.4" text-anchor="end" textLength="58.4" lengthAdjust="spacingAndGlyphs">3.08e-119</text>
<text class="pv" x="1879.8" y="1206.9" text-anchor="end" textLength="52.0" lengthAdjust="spacingAndGlyphs">1.59e-66</text>
<text class="pv" x="1879.8" y="1232.2" text-anchor="end" textLength="59.3" lengthAdjust="spacingAndGlyphs">6.75e-121</text>
<text class="pv" x="1879.8" y="1258.3" text-anchor="end" textLength="58.4" lengthAdjust="spacingAndGlyphs">1.15e-113</text>
<text class="pv" x="1879.8" y="1284.1" text-anchor="end" textLength="58.4" lengthAdjust="spacingAndGlyphs">1.69e-119</text>
<text class="pv" x="1879.8" y="1309.4" text-anchor="end" textLength="52.0" lengthAdjust="spacingAndGlyphs">6.24e-45</text>
<text class="pv" x="1879.8" y="1335.2" text-anchor="end" textLength="59.3" lengthAdjust="spacingAndGlyphs">6.82e-123</text>
<text class="pv" x="1879.8" y="1361.1" text-anchor="end" textLength="59.3" lengthAdjust="spacingAndGlyphs">1.00e-124</text>
<text class="pv" x="1879.8" y="1386.9" text-anchor="end" textLength="59.3" lengthAdjust="spacingAndGlyphs">2.71e-122</text>
<text class="pv" x="1879.8" y="1412.5" text-anchor="end" textLength="59.3" lengthAdjust="spacingAndGlyphs">6.25e-124</text>
<text class="pv" x="1877.4" y="1445.9" text-anchor="end" textLength="52.0" lengthAdjust="spacingAndGlyphs">1.31e-64</text>
<text class="pv" x="1877.4" y="1473.4" text-anchor="end" textLength="58.4" lengthAdjust="spacingAndGlyphs">4.60e-113</text>
<text class="pv" x="1877.4" y="1500.6" text-anchor="end" textLength="58.4" lengthAdjust="spacingAndGlyphs">1.76e-117</text>
<text class="pv" x="1877.4" y="1528.6" text-anchor="end" textLength="52.0" lengthAdjust="spacingAndGlyphs">4.42e-68</text>
<text class="pv" x="1877.4" y="1556.5" text-anchor="end" textLength="59.3" lengthAdjust="spacingAndGlyphs">1.23e-122</text>
<text class="pv" x="1877.4" y="1583.8" text-anchor="end" textLength="59.3" lengthAdjust="spacingAndGlyphs">1.45e-134</text>
<text class="pv" x="1877.4" y="1612.1" text-anchor="end" textLength="59.3" lengthAdjust="spacingAndGlyphs">1.84e-133</text>
<text class="pv" x="1877.4" y="1639.4" text-anchor="end" textLength="59.3" lengthAdjust="spacingAndGlyphs">1.17e-125</text>
<text class="pv" x="1877.4" y="1667.1" text-anchor="end" textLength="59.3" lengthAdjust="spacingAndGlyphs">2.91e-127</text>
<text class="lg" x="141.5" y="1533.9" font-size="19.5px" textLength="50.5" lengthAdjust="spacingAndGlyphs">Motif</text>
<text class="lg" x="207.3" y="1533.9" font-size="19.5px" textLength="66.5" lengthAdjust="spacingAndGlyphs">Symbol</text>
<text class="lg" x="315.1" y="1533.9" font-size="19.5px" textLength="150.5" lengthAdjust="spacingAndGlyphs">Motif Consensus</text>
<text class="lg" x="155.5" y="1567.4" font-size="19px">1.</text>
<rect x="200.8" y="1546.5" width="118.2" height="21.4" rx="4" fill="#ff0000" stroke="#5d7fb0" stroke-width="1.2"/>
<text class="lg" x="329.3" y="1564.4" font-size="20px" textLength="603.4" lengthAdjust="spacingAndGlyphs">LAKTTPDRQAACNCLKQLAGSISGVNPNNAAALPGKCGVNVPUKISPSTB</text>
<text class="lg" x="155.5" y="1598.3" font-size="19px">2.</text>
<rect x="200.8" y="1577.0" width="118.6" height="21.4" rx="4" fill="#00dced" stroke="#5d7fb0" stroke-width="1.2"/>
<text class="lg" x="329.3" y="1595.4" font-size="20px" textLength="600.4" lengthAdjust="spacingAndGlyphs">YMVIQGEPGAVIRGKKGSGGITVKKTNQALIIGIYDEPMTPGQCNMIVER</text>
<text class="lg" x="155.5" y="1623.6" font-size="19px">3.</text>
<rect x="200.8" y="1606.2" width="118.6" height="21.6" rx="4" fill="#00ff80" stroke="#5d7fb0" stroke-width="1.2"/>
<text class="lg" x="329.3" y="1627.0" font-size="20px" textLength="628.4" lengthAdjust="spacingAndGlyphs">MSWQAQYVDDHLMCEIDGNHLTAAAIJGQDGSVMAQSATPPQPKPEEITAI</text>
<text class="lg" x="155.5" y="1654.8" font-size="19px">4.</text>
<rect x="200.8" y="1636.2" width="118.6" height="21.9" rx="4" fill="#8030a0" stroke="#5d7fb0" stroke-width="1.2"/>
<text class="lg" x="329.3" y="1658.2" font-size="20px" textLength="581.4" lengthAdjust="spacingAndGlyphs">KAFVLDADNLIPKIAPQAIKHARILEGDGGFGTIKKITPGRGSQYGYVKH</text>
<text class="lg" x="155.5" y="1684.7" font-size="19px">5.</text>
<rect x="200.8" y="1666.3" width="118.6" height="21.4" rx="4" fill="#ffc000" stroke="#5d7fb0" stroke-width="1.2"/>
<text class="lg" x="329.3" y="1687.2" font-size="20px" textLength="573.4" lengthAdjust="spacingAndGlyphs">PGGGSIIKSTSHYHTKGDVEIKEEHVKAGKEKASGLFKLIESYLKAHPDA</text>
<text class="lg" x="155.5" y="1716.3" font-size="19px">6.</text>
<rect x="200.8" y="1695.6" width="91.1" height="20.3" rx="4" fill="#00ff00" stroke="#5d7fb0" stroke-width="1.2"/>
<text class="lg" x="329.3" y="1713.5" font-size="20px" textLength="456.0" lengthAdjust="spacingAndGlyphs">AQAITCGQVSSNLAPCIAYVRGGGAVPPACCNGIRNLN</text>
<text class="lg" x="155.5" y="1743.0" font-size="19px">7.</text>
<rect x="200.8" y="1725.7" width="79.8" height="21.4" rx="4" fill="#3300ff" stroke="#5d7fb0" stroke-width="1.2"/>
<text class="lg" x="329.3" y="1746.6" font-size="20px" textLength="315.2" lengthAdjust="spacingAndGlyphs">NYSYSYTLIEGDALGDTIEKISYETKLVA</text>
<text class="lg" x="155.5" y="1775.8" font-size="19px">8.</text>
<rect x="200.8" y="1756.0" width="63.3" height="21.4" rx="4" fill="#ff10d0" stroke="#5d7fb0" stroke-width="1.2"/>
<text class="lg" x="329.3" y="1773.8" font-size="20px" textLength="253.7" lengthAdjust="spacingAndGlyphs">MKDFDEPGTLAPTGLYLGGTK</text>
<rect x="1816.6" y="42.7" width="2.8" height="1.2" fill="#444"/>
</svg></body></html>
